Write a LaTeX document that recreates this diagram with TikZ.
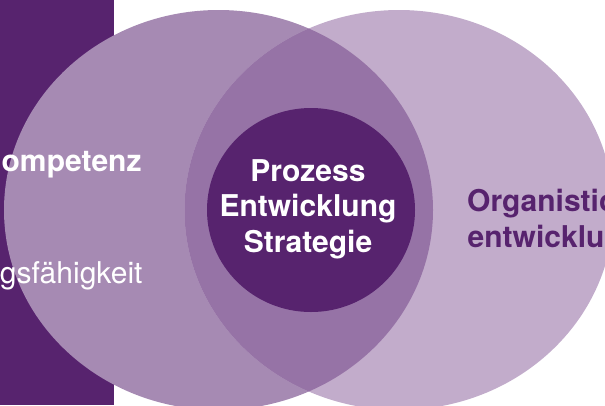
\documentclass[tikz,border=0pt]{standalone}
\usepackage{fontspec}
\setmainfont{TeX Gyre Heros}
\usetikzlibrary{shapes.geometric}
\definecolor{plum}{HTML}{57236E}
\definecolor{lilac}{HTML}{A68AB3}
\definecolor{lavender}{HTML}{C2ACCB}
\definecolor{mauve}{HTML}{9673A6}
\tikzset{
  lbl/.style={inner sep=0pt, font=\fontsize{30bp}{35.5bp}\selectfont},
  boldlbl/.style={lbl, font=\fontsize{30bp}{35.5bp}\selectfont\bfseries},
}
\begin{document}
\begin{tikzpicture}[x=1bp,y=-1bp]
  \useasboundingbox (0,0) rectangle (605,405);
  \clip (0,0) rectangle (605,405);
  % side band
  \fill[plum] (0,0) rectangle (114,405);
  % two overlapping fields
  \fill[lilac] (218.5,210) ellipse [x radius=214.5, y radius=200];
  \fill[lavender] (399,210) ellipse [x radius=214.5, y radius=200];
  \begin{scope}
    \clip (218.5,210) ellipse [x radius=214.5, y radius=200];
    \fill[mauve] (399,210) ellipse [x radius=214.5, y radius=200];
  \end{scope}
  % core
  \node (core) [ellipse, fill=plum, inner sep=0pt,
        minimum width=208bp, minimum height=204bp] at (311,210) {};
  \node (p1) [boldlbl, text=white, anchor=base] at (308,181) {Prozess};
  \node (p2) [boldlbl, text=white, anchor=base] at (308,216.5) {Entwicklung};
  \node (p3) [boldlbl, text=white, anchor=base] at (308,252) {Strategie};
  % left labels
  \node (k1) [boldlbl, text=white, anchor=base east] at (141.7,171.7) {ompetenz};
  \node (k2) [lbl, text=white, anchor=base east] at (142.7,283.3) {gsfähigkeit};
  % right labels
  \node (o1) [boldlbl, text=plum, anchor=base west] at (467,211) {Organistio};
  \node (o2) [boldlbl, text=plum, anchor=base west] at (467.5,247) {entwicklu};
\end{tikzpicture}
\end{document}
